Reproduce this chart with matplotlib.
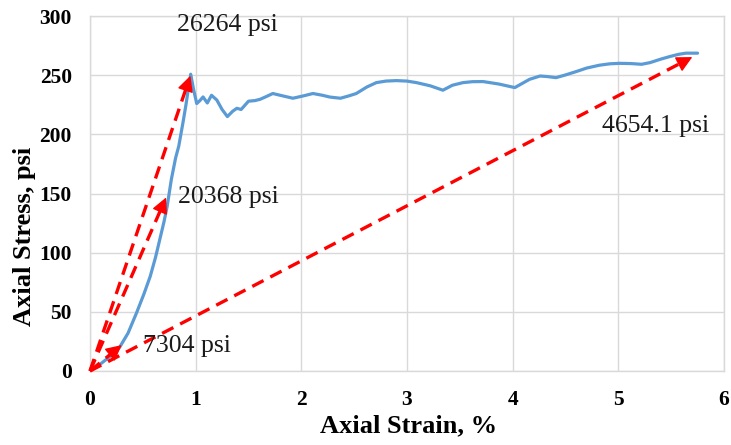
import numpy as np
import matplotlib
matplotlib.use("Agg")
import matplotlib.pyplot as plt

# Stress-strain record (strain in %, stress in psi)
strain = [0.00, 0.10, 0.20, 0.28, 0.36, 0.44, 0.51, 0.57, 0.62, 0.66, 0.70, 0.73,
          0.77, 0.81, 0.84, 0.88, 0.91, 0.93, 0.953, 0.98, 1.01, 1.04, 1.07, 1.11,
          1.15, 1.20, 1.25, 1.30, 1.35, 1.39, 1.43, 1.50, 1.56, 1.61, 1.67, 1.73,
          1.80, 1.92, 2.02, 2.11, 2.20, 2.27, 2.37, 2.45, 2.52, 2.62, 2.71, 2.80,
          2.90, 3.00, 3.09, 3.22, 3.34, 3.43, 3.53, 3.62, 3.72, 3.87, 4.02, 4.09,
          4.16, 4.26, 4.33, 4.41, 4.50, 4.60, 4.70, 4.82, 4.92, 5.01, 5.12, 5.22,
          5.30, 5.40, 5.49, 5.57, 5.64, 5.75]
stress = [0.0, 6.0, 13.0, 20.0, 32.0, 49.0, 65.0, 80.0, 96.0, 111.0, 126.0, 139.0,
          162.0, 180.0, 190.0, 210.0, 226.0, 238.0, 250.8, 238.0, 226.0, 228.5, 231.6, 226.5,
          233.0, 229.0, 221.0, 215.0, 219.5, 222.0, 221.0, 228.0, 228.5, 229.6, 232.0, 234.5,
          233.0, 230.5, 232.5, 234.5, 233.0, 231.5, 230.5, 232.5, 234.5, 240.0, 243.7, 245.0,
          245.4, 245.0, 243.7, 241.0, 237.3, 241.5, 243.7, 244.5, 244.6, 242.5, 239.5, 243.0,
          246.5, 249.3, 248.8, 247.9, 250.2, 253.0, 256.0, 258.4, 259.6, 260.0, 259.8, 259.2,
          260.6, 263.5, 265.8, 267.6, 268.6, 268.6]

# Secant / tangent moduli (psi) and the strain (%) where each arrow ends
moduli = [7304, 20368, 26264, 4654.1]
tip_strain = [0.30, 0.72, 0.95, 5.70]
mod_labels = ["7304 psi", "20368 psi", "26264 psi", "4654.1 psi"]
label_pos = [(0.50, 21), (0.83, 147), (0.82, 292), (4.85, 207)]

x_ticks = [0, 1, 2, 3, 4, 5, 6]
y_ticks = [0, 50, 100, 150, 200, 250, 300]

serif = ["Liberation Serif", "DejaVu Serif"]
blue = "#5B9BD5"
red = "#FF0000"
grid_c = "#D9D9D9"

fig = plt.figure(figsize=(7.31, 4.45), dpi=100)
ax = fig.add_axes([90 / 731, 1 - 371 / 445, (724 - 90) / 731, (371 - 16) / 445])
ax.set_xlim(0, 6)
ax.set_ylim(0, 300)
ax.set_xticks(x_ticks)
ax.set_yticks(y_ticks)
ax.grid(True, color=grid_c, lw=1.0)
ax.set_axisbelow(True)
for s in ax.spines.values():
    s.set_color(grid_c)
    s.set_linewidth(1.0)
ax.tick_params(length=0, pad=0)
ax.tick_params(axis="y", pad=13)
ax.tick_params(axis="x", pad=14)
for lab in ax.get_xticklabels() + ax.get_yticklabels():
    lab.set_fontfamily(serif)
    lab.set_fontweight("bold")
    lab.set_fontsize(15.5)

ax.plot(strain, stress, color=blue, lw=2.3, solid_capstyle="round",
        solid_joinstyle="round", zorder=3)

# Moduli arrows: dashed shaft plus a solid filled head at the tip
fig.canvas.draw()
trans = ax.transData
inv = trans.inverted()
for E, xs in zip(moduli, tip_strain):
    ys = E * xs / 100.0
    p0 = trans.transform((0, 0))
    p1 = trans.transform((xs, ys))
    d = p1 - p0
    u = d / np.hypot(*d)
    shaft_end = inv.transform(p1 - u * 8)
    ax.plot([0, shaft_end[0]], [0, shaft_end[1]], color=red, lw=2.4,
            dashes=(3.8, 2.3), zorder=4, clip_on=False)
    head_start = inv.transform(p1 - u * 12)
    ax.annotate("", xy=(xs, ys), xytext=tuple(head_start),
                arrowprops=dict(arrowstyle="-|>,head_length=0.75,head_width=0.38",
                                color=red, lw=1.0, shrinkA=0, shrinkB=0,
                                mutation_scale=13),
                zorder=5, annotation_clip=False)

for txt, (tx, ty) in zip(mod_labels, label_pos):
    ax.text(tx, ty, txt, fontfamily=serif, fontsize=18.5, ha="left", va="center",
            color="#1a1a1a", zorder=6)

ax.set_xlabel("Axial Strain, %", fontfamily=serif, fontweight="bold", fontsize=19)
ax.set_ylabel("Axial Stress, psi", fontfamily=serif, fontweight="bold", fontsize=19)
ax.xaxis.set_label_coords((409 - 90) / 634, -(414 - 371) / 355)
ax.yaxis.set_label_coords(-(90 - 36) / 634, (371 - 236) / 355)

fig.savefig("out.png", dpi=100)
